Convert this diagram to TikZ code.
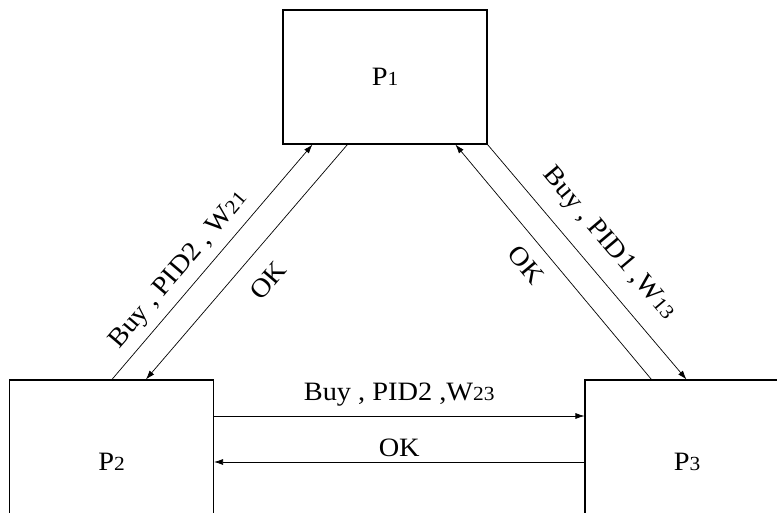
\documentclass[tikz,border=0pt]{standalone}
\usepackage{fontspec}
\setmainfont{Liberation Serif}[FakeStretch=1.07]
\usetikzlibrary{positioning,arrows.meta}
\newcommand{\dig}[1]{{\fontsize{20pt}{20pt}\selectfont #1}}
\tikzset{
  proc/.style={rectangle,draw,line width=1.1pt,minimum width=204pt,
               minimum height=134pt,inner sep=0pt,
               font=\fontsize{26.5pt}{26.5pt}\selectfont},
  msg/.style={-{Latex[length=9pt,width=6pt]},line width=0.7pt},
  msgback/.style={{Latex[length=9pt,width=6pt]}-,line width=0.7pt},
  lbl/.style={font=\fontsize{26.5pt}{26.5pt}\selectfont,inner sep=2pt},
}

\begin{document}
\begin{tikzpicture}[x=1pt,y=-1pt]
\clip (0,0) rectangle (777,513);
\node[proc] (p1) at (385,77) {P\dig{1}};
\node[proc, minimum height=164pt] (p2) at (111.5,462) {P\dig{2}};
\node[proc, minimum height=164pt] (p3) at (687,462) {P\dig{3}};

% P2 <-> P1
\draw[msg] ([xshift=103pt]p2.north west) -- node[lbl,sloped,pos=0.41,above=6pt]
  {Buy , PID2 , W\dig{21}} ([xshift=30pt]p1.south west);
\draw[msgback] ([xshift=137pt]p2.north west) -- node[lbl,sloped,below=17pt]
  {OK} ([xshift=65pt]p1.south west);

% P1 <-> P3
\draw[msg] (p1.south east) -- node[lbl,sloped,above=14pt]
  {Buy , PID1 ,W\dig{13}} ([xshift=102pt]p3.north west);
\draw[msgback] ([xshift=173pt]p1.south west) -- node[lbl,sloped,pos=0.45,below=11pt]
  {OK} ([xshift=67pt]p3.north west);

% P2 <-> P3
\draw[msg] ([yshift=46pt]p2.east) -- node[lbl,above=7pt]
  {Buy , PID2 ,W\dig{23}} ([yshift=46pt]p3.west);
\draw[msg] (p3.west) -- node[lbl,above=3pt] {OK} (p2.east);
\end{tikzpicture}
\end{document}
